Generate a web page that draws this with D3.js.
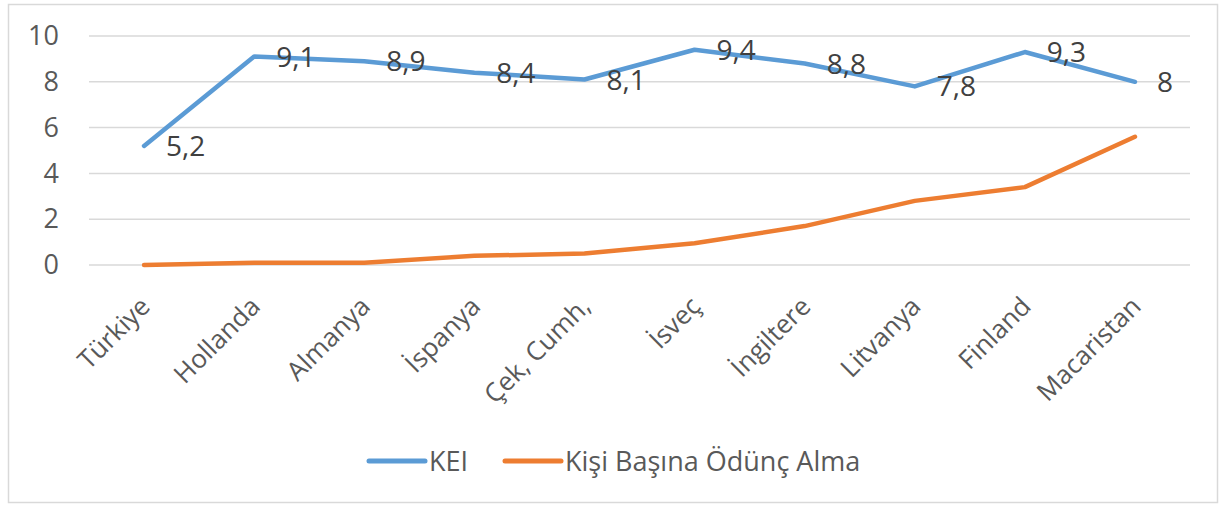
<!DOCTYPE html>
<html>
<head>
<meta charset="utf-8">
<script src="https://cdnjs.cloudflare.com/ajax/libs/d3/7.8.5/d3.min.js"></script>
<style>
  body { margin: 0; background: #fff; }
  text { font-family: "Open Sans", sans-serif; }
</style>
</head>
<body>
<div id="vis-container"></div>
<script>
// chart data
var countries = ["Türkiye", "Hollanda", "Almanya", "İspanya", "Çek, Cumh,", "İsveç", "İngiltere", "Litvanya", "Finland", "Macaristan"];
var keiValues = [5.2, 9.1, 8.9, 8.4, 8.1, 9.4, 8.8, 7.8, 9.3, 8];
var loanValues = [0, 0.1, 0.1, 0.4, 0.5, 0.95, 1.7, 2.8, 3.4, 5.6];
var yTicks = [0, 2, 4, 6, 8, 10];
var seriesNames = ["KEI", "Kişi Başına Ödünç Alma"];
var seriesColors = ["#5b9bd5", "#ed7d31"];

var W = 1219, H = 505;
var margin = { top: 36, right: 29, bottom: 240, left: 89 };
var width  = W - margin.left - margin.right;
var height = H - margin.top - margin.bottom;

var svg = d3.select("#vis-container")
  .append("svg")
    .attr("width", W)
    .attr("height", H);

// chart border
svg.append("rect")
  .attr("x", 8.5).attr("y", 4.5)
  .attr("width", 1209).attr("height", 498)
  .attr("fill", "#fff")
  .attr("stroke", "#d9d9d9")
  .attr("stroke-width", 1.5);

var canvas = svg.append("g")
  .attr("transform", "translate(" + margin.left + "," + margin.top + ")");

var xScale = d3.scalePoint()
  .domain(countries)
  .range([0, width])
  .padding(0.5);

var yScale = d3.scaleLinear()
  .domain([0, 10])
  .range([height, 0]);

// gridlines
canvas.selectAll(".grid")
  .data(yTicks)
  .enter().append("line")
    .attr("class", "grid")
    .attr("x1", 0).attr("x2", width)
    .attr("y1", d => yScale(d)).attr("y2", d => yScale(d))
    .attr("stroke", "#d9d9d9")
    .attr("stroke-width", 1.5);

// y axis labels
var yAxis = d3.axisLeft(yScale).tickValues(yTicks).tickSize(0).tickPadding(30);
var yG = canvas.append("g").call(yAxis);
yG.select(".domain").remove();
yG.selectAll("text")
  .attr("font-family", "Open Sans")
  .attr("font-size", 27)
  .attr("fill", "#595959");

// x axis labels (rotated)
var xAxis = d3.axisBottom(xScale).tickSize(0);
var xG = canvas.append("g")
  .attr("transform", "translate(0," + height + ")")
  .call(xAxis);
xG.select(".domain").remove();
xG.selectAll("text")
  .attr("font-family", "Open Sans")
  .attr("font-size", 26)
  .attr("fill", "#595959")
  .attr("text-anchor", "end")
  .attr("x", 0).attr("y", 0)
  .attr("dy", "0.71em")
  .attr("transform", "translate(-6,30) rotate(-45)");

// lines
var line = d3.line()
  .x((d, i) => xScale(countries[i]))
  .y(d => yScale(d));

[keiValues, loanValues].forEach(function (vals, k) {
  canvas.append("path")
    .datum(vals)
    .attr("fill", "none")
    .attr("stroke", seriesColors[k])
    .attr("stroke-width", 4.5)
    .attr("stroke-linejoin", "round")
    .attr("stroke-linecap", "round")
    .attr("d", line);
});

// data labels for KEI
canvas.selectAll(".lbl")
  .data(keiValues)
  .enter().append("text")
    .attr("class", "lbl")
    .attr("x", (d, i) => xScale(countries[i]) + 22)
    .attr("y", d => yScale(d))
    .attr("dy", "0.36em")
    .attr("font-size", 28)
    .attr("fill", "#404040")
    .text(d => String(d).replace(".", ","));

// legend
var legendX = [369, 505];
var legend = svg.selectAll(".legend")
  .data(seriesNames)
  .enter().append("g")
    .attr("class", "legend")
    .attr("transform", (d, i) => "translate(" + legendX[i] + ",461)");
legend.append("line")
  .attr("x1", 0).attr("x2", 56)
  .attr("stroke", (d, i) => seriesColors[i])
  .attr("stroke-width", 5)
  .attr("stroke-linecap", "round");
legend.append("text")
  .attr("x", 60)
  .attr("dy", "0.36em")
  .attr("font-size", 27)
  .attr("fill", "#595959")
  .text(d => d);
</script>
</body>
</html>
